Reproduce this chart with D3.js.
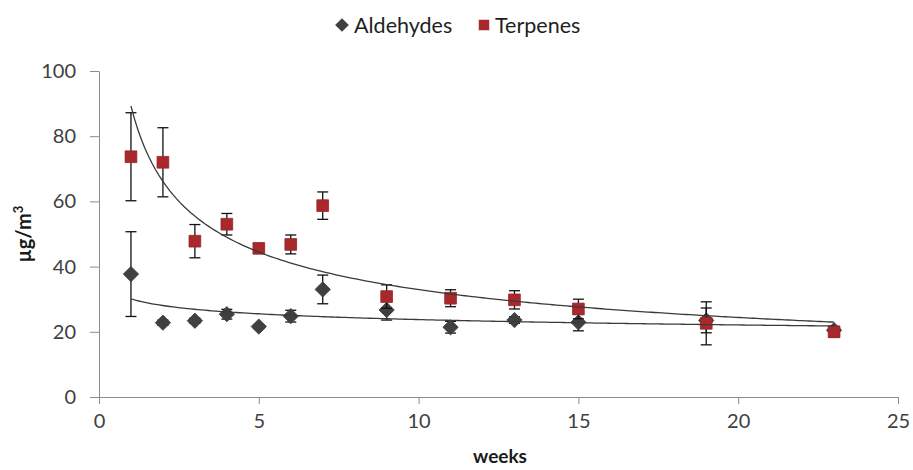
<!DOCTYPE html>
<html>
<head>
<meta charset="utf-8">
<script src="https://cdn.jsdelivr.net/npm/d3@7"></script>
<style>
  body { margin: 0; background: #fff; }
  text { font-family: Lato, "Open Sans", sans-serif; }
</style>
</head>
<body>
<div id="chart"></div>
<script>
// weeks sampled
const weeks = [1, 2, 3, 4, 5, 6, 7, 9, 11, 13, 15, 19, 23];
// mean concentrations, µg/m³
const aldehydes = [37.7, 22.8, 23.4, 25.4, 21.6, 24.8, 33.0, 26.7, 21.4, 23.6, 22.9, 23.5, 20.5];
const aldehydesErr = [13.0, 0.8, 0.8, 1.5, 0.6, 1.8, 4.4, 3.1, 1.8, 1.0, 2.6, 3.8, 1.0];
const terpenes = [73.7, 72.0, 47.8, 53.0, 45.6, 46.8, 58.7, 30.8, 30.3, 29.8, 27.0, 22.6, 20.0];
const terpenesErr = [13.5, 10.6, 5.1, 3.3, 0.8, 2.9, 4.2, 3.6, 2.6, 2.8, 3.0, 6.6, 1.6];
const xTicks = [0, 5, 10, 15, 20, 25];
const yTicks = [0, 20, 40, 60, 80, 100];

const width = 913, height = 470;
const margin = { top: 71, right: 15, bottom: 73, left: 99 };

const svg = d3.select("#chart").append("svg").attr("width", width).attr("height", height);

const x = d3.scaleLinear().domain([0, 25]).range([margin.left, width - margin.right]);
const y = d3.scaleLinear().domain([0, 100]).range([height - margin.bottom, margin.top]);

// x axis
const gx = svg.append("g").attr("transform", "translate(0," + y(0) + ")")
  .call(d3.axisBottom(x).tickValues(xTicks).tickSize(7).tickSizeOuter(0).tickPadding(10));
// y axis
const gy = svg.append("g").attr("transform", "translate(" + x(0) + ",0)")
  .call(d3.axisLeft(y).tickValues(yTicks).tickSize(9).tickSizeOuter(0).tickPadding(14));

[gx, gy].forEach(g => {
  g.select(".domain").attr("stroke", "#8c8c8c");
  g.selectAll(".tick line").attr("stroke", "#8c8c8c");
  g.selectAll(".tick text").attr("fill", "#404040").style("font-size", "20px");
});

// axis titles
svg.append("text").attr("x", 500).attr("y", 463).attr("text-anchor", "middle")
  .style("font-size", "19px").style("font-weight", "bold").attr("fill", "#1a1a1a").text("weeks");
const yt = svg.append("text").attr("transform", "translate(31,234) rotate(-90)").attr("text-anchor", "middle")
  .style("font-size", "20px").style("font-weight", "bold").attr("fill", "#1a1a1a");
yt.append("tspan").text("µg/m");
yt.append("tspan").attr("dy", -8).style("font-size", "13px").text("3");

// power trendline, least squares on ln-ln (like a spreadsheet trendline)
function powerFit(xs, ys) {
  const lx = xs.map(Math.log), ly = ys.map(Math.log);
  const mx = d3.mean(lx), my = d3.mean(ly);
  const b = d3.sum(lx, (v, i) => (v - mx) * (ly[i] - my)) / d3.sum(lx, v => (v - mx) * (v - mx));
  const a = Math.exp(my - b * mx);
  return t => a * Math.pow(t, b);
}

const series = [
  { name: "Aldehydes", values: aldehydes, err: aldehydesErr, color: "#404040", symbol: d3.symbolDiamond2, size: 150 },
  { name: "Terpenes", values: terpenes, err: terpenesErr, color: "#a8282c", symbol: d3.symbolSquare2, size: 175 }
];

const line = d3.line().x(d => x(d[0])).y(d => y(d[1]));

series.forEach(s => {
  const data = weeks.map((w, i) => ({ w: w, v: s.values[i], e: s.err[i] }));
  const g = svg.append("g");

  // error bars
  const eb = g.selectAll(".eb").data(data).enter().append("g");
  eb.append("line").attr("x1", d => x(d.w)).attr("x2", d => x(d.w))
    .attr("y1", d => y(d.v + d.e)).attr("y2", d => y(d.v - d.e))
    .attr("stroke", "#111").attr("stroke-width", 1.3);
  eb.selectAll(".cap").data(d => [[d.w, d.v + d.e], [d.w, d.v - d.e]]).enter().append("line")
    .attr("x1", d => x(d[0]) - 5.5).attr("x2", d => x(d[0]) + 5.5)
    .attr("y1", d => y(d[1])).attr("y2", d => y(d[1]))
    .attr("stroke", "#111").attr("stroke-width", 1.3);

  // markers
  g.selectAll(".pt").data(data).enter().append("path")
    .attr("d", d3.symbol().type(s.symbol).size(s.size))
    .attr("transform", d => "translate(" + x(d.w) + "," + y(d.v) + ")")
    .attr("fill", s.color).attr("stroke", d3.color(s.color).darker(0.3)).attr("stroke-width", 0.8);
});

// trendlines on top
series.forEach(s => {
  const f = powerFit(weeks, s.values);
  const lo = d3.min(weeks), hi = d3.max(weeks);
  const pts = d3.range(0, 201).map(i => { const t = lo + (hi - lo) * i / 200; return [t, f(t)]; });
  svg.append("path").datum(pts).attr("d", line)
    .attr("fill", "none").attr("stroke", "#3a3a3a").attr("stroke-width", 1.3);
});

// legend
const legend = svg.append("g").attr("transform", "translate(0,25)");
legend.append("path").attr("d", d3.symbol().type(d3.symbolDiamond2).size(120))
  .attr("transform", "translate(342,0)").attr("fill", "#404040");
legend.append("text").attr("x", 354).attr("y", 7.5).style("font-size", "21.5px").attr("fill", "#1f1f1f").text("Aldehydes");
legend.append("path").attr("d", d3.symbol().type(d3.symbolSquare2).size(140))
  .attr("transform", "translate(484,0)").attr("fill", "#a8282c");
legend.append("text").attr("x", 495).attr("y", 7.5).style("font-size", "21.5px").attr("fill", "#1f1f1f").text("Terpenes");
</script>
</body>
</html>
